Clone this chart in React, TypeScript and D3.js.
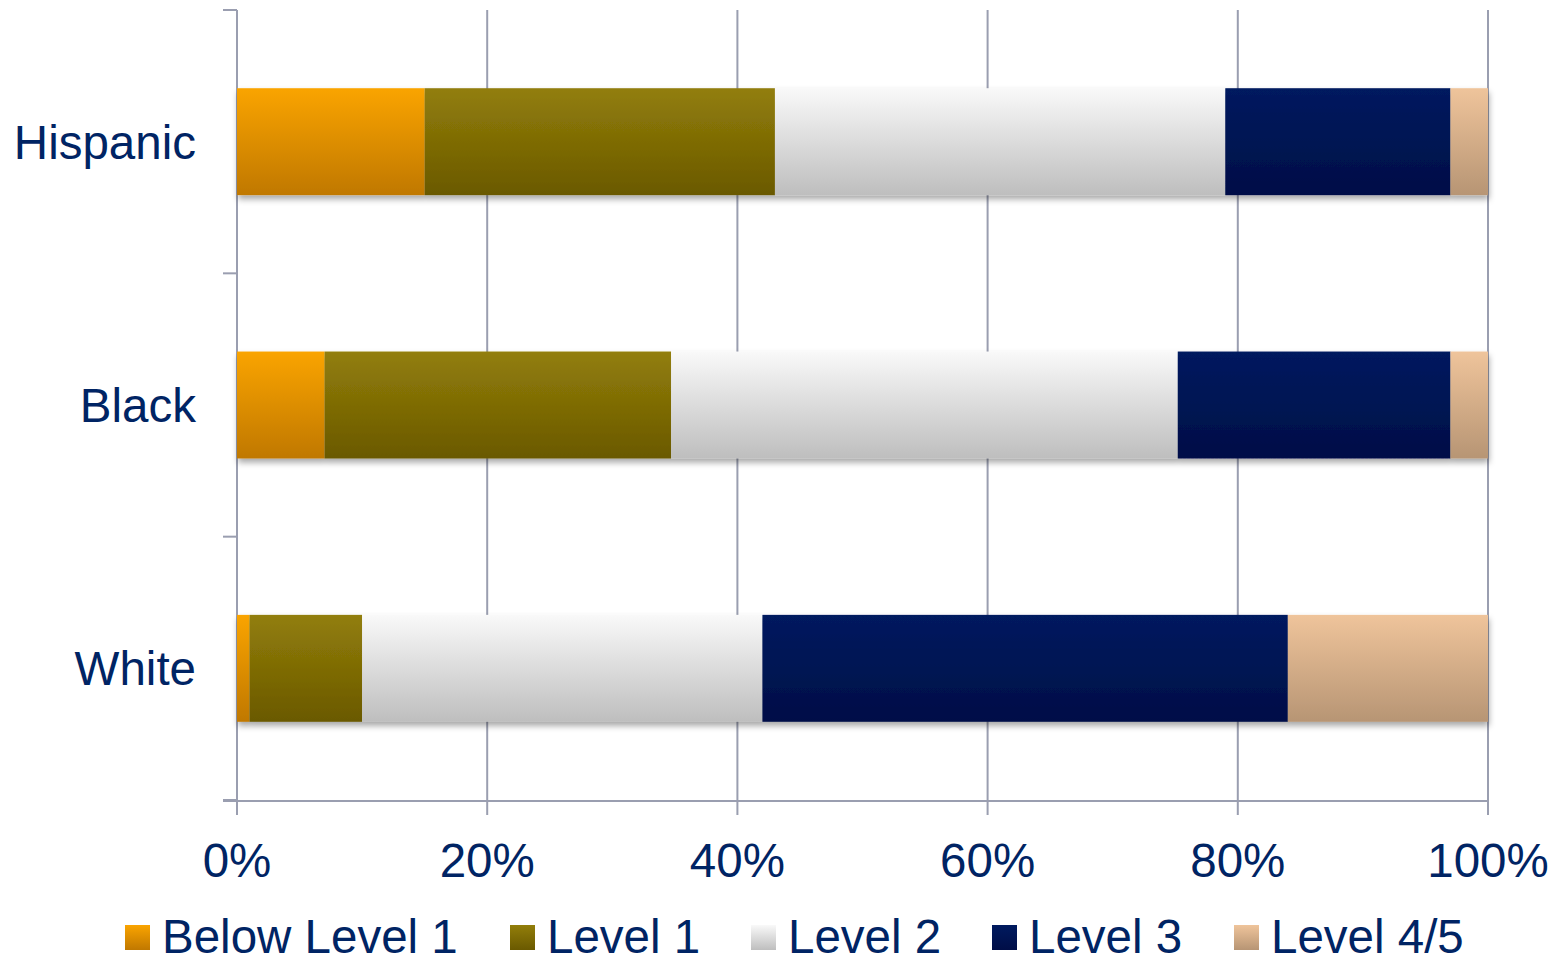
import React from "react";
import * as d3 from "d3";

const categories = ["Hispanic", "Black", "White"];
const seriesNames = ["Below Level 1", "Level 1", "Level 2", "Level 3", "Level 4/5"];
const belowLevel1 = [15, 7, 1];
const level1 = [28, 27.7, 9];
const level2 = [36, 40.5, 32];
const level3 = [18, 21.8, 42];
const level45 = [3, 3, 16];
const xTicks = [0, 20, 40, 60, 80, 100];

const gradients = [
  ["#FAA400", "#C07800"],
  ["#927E0A", "#6A5900"],
  ["#F9F9F9", "#BEBEBE"],
  ["#001A5F", "#000E47"],
  ["#EFC49B", "#B79574"],
];

const W = 1565;
const H = 957;
const textColor = "#002464";
const gridColor = "#9A9EB0";
const font = "'Liberation Sans', Arial, sans-serif";
const fs = 47.5;

export default function App() {
  const values = [belowLevel1, level1, level2, level3, level45];
  const x = d3.scaleLinear().domain([0, 100]).range([237, 1488]);
  const y = d3
    .scaleBand<string>()
    .domain(categories)
    .range([10, 800])
    .paddingInner(0.594)
    .paddingOuter(0.297);

  const rows = categories.map((c, ci) => {
    const obj: Record<string, number | string> = { category: c };
    seriesNames.forEach((s, si) => (obj[s] = values[si][ci]));
    return obj;
  });
  const stacked = d3.stack<any>().keys(seriesNames)(rows);

  const step = y.step();
  const yTickPositions = [0, 1, 2, 3].map((i) => 10 + i * step);
  const legendX = [125, 510, 751, 992, 1234];

  return (
    <svg
      width={W}
      height={H}
      style={{ position: "absolute", left: 0, top: 0, background: "#fff" }}
      fontFamily={font}
    >
      <defs>
        {gradients.map((g, i) => (
          <linearGradient key={i} id={`g${i}`} x1="0" y1="0" x2="0" y2="1">
            <stop offset="0%" stopColor={g[0]} />
            <stop offset="100%" stopColor={g[1]} />
          </linearGradient>
        ))}
        <filter id="shadow" x="-5%" y="-20%" width="110%" height="150%">
          <feDropShadow dx="1" dy="4" stdDeviation="3" floodColor="#000" floodOpacity="0.35" />
        </filter>
      </defs>

      {/* gridlines */}
      {xTicks.slice(1).map((t) => (
        <line key={t} x1={x(t)} x2={x(t)} y1={10} y2={815} stroke={gridColor} strokeWidth={2} />
      ))}
      {/* y axis */}
      <line x1={x(0)} x2={x(0)} y1={10} y2={815} stroke={gridColor} strokeWidth={2} />
      {yTickPositions.map((p, i) => (
        <line key={i} x1={223} x2={x(0)} y1={p} y2={p} stroke={gridColor} strokeWidth={2} />
      ))}
      {/* x axis */}
      <line x1={223} x2={x(100)} y1={801} y2={801} stroke={gridColor} strokeWidth={2} />

      {/* bars */}
      {categories.map((c, ci) => (
        <g key={c} filter="url(#shadow)">
          {stacked.map((s, si) => (
            <rect
              key={si}
              x={x(s[ci][0])}
              width={x(s[ci][1]) - x(s[ci][0])}
              y={y(c)}
              height={y.bandwidth()}
              fill={`url(#g${si})`}
            />
          ))}
        </g>
      ))}

      {/* category labels */}
      {categories.map((c) => (
        <text
          key={c}
          x={196}
          y={(y(c) as number) + y.bandwidth() / 2 + 17}
          textAnchor="end"
          fontSize={fs}
          fill={textColor}
        >
          {c}
        </text>
      ))}

      {/* x tick labels */}
      {xTicks.map((t) => (
        <text key={t} x={x(t)} y={877} textAnchor="middle" fontSize={fs} fill={textColor}>
          {t}%
        </text>
      ))}

      {/* legend */}
      {seriesNames.map((s, i) => (
        <g key={s}>
          <rect x={legendX[i]} y={925} width={25} height={25} fill={`url(#g${i})`} />
          <text x={legendX[i] + 37} y={953} fontSize={fs} fill={textColor}>
            {s}
          </text>
        </g>
      ))}
    </svg>
  );
}
